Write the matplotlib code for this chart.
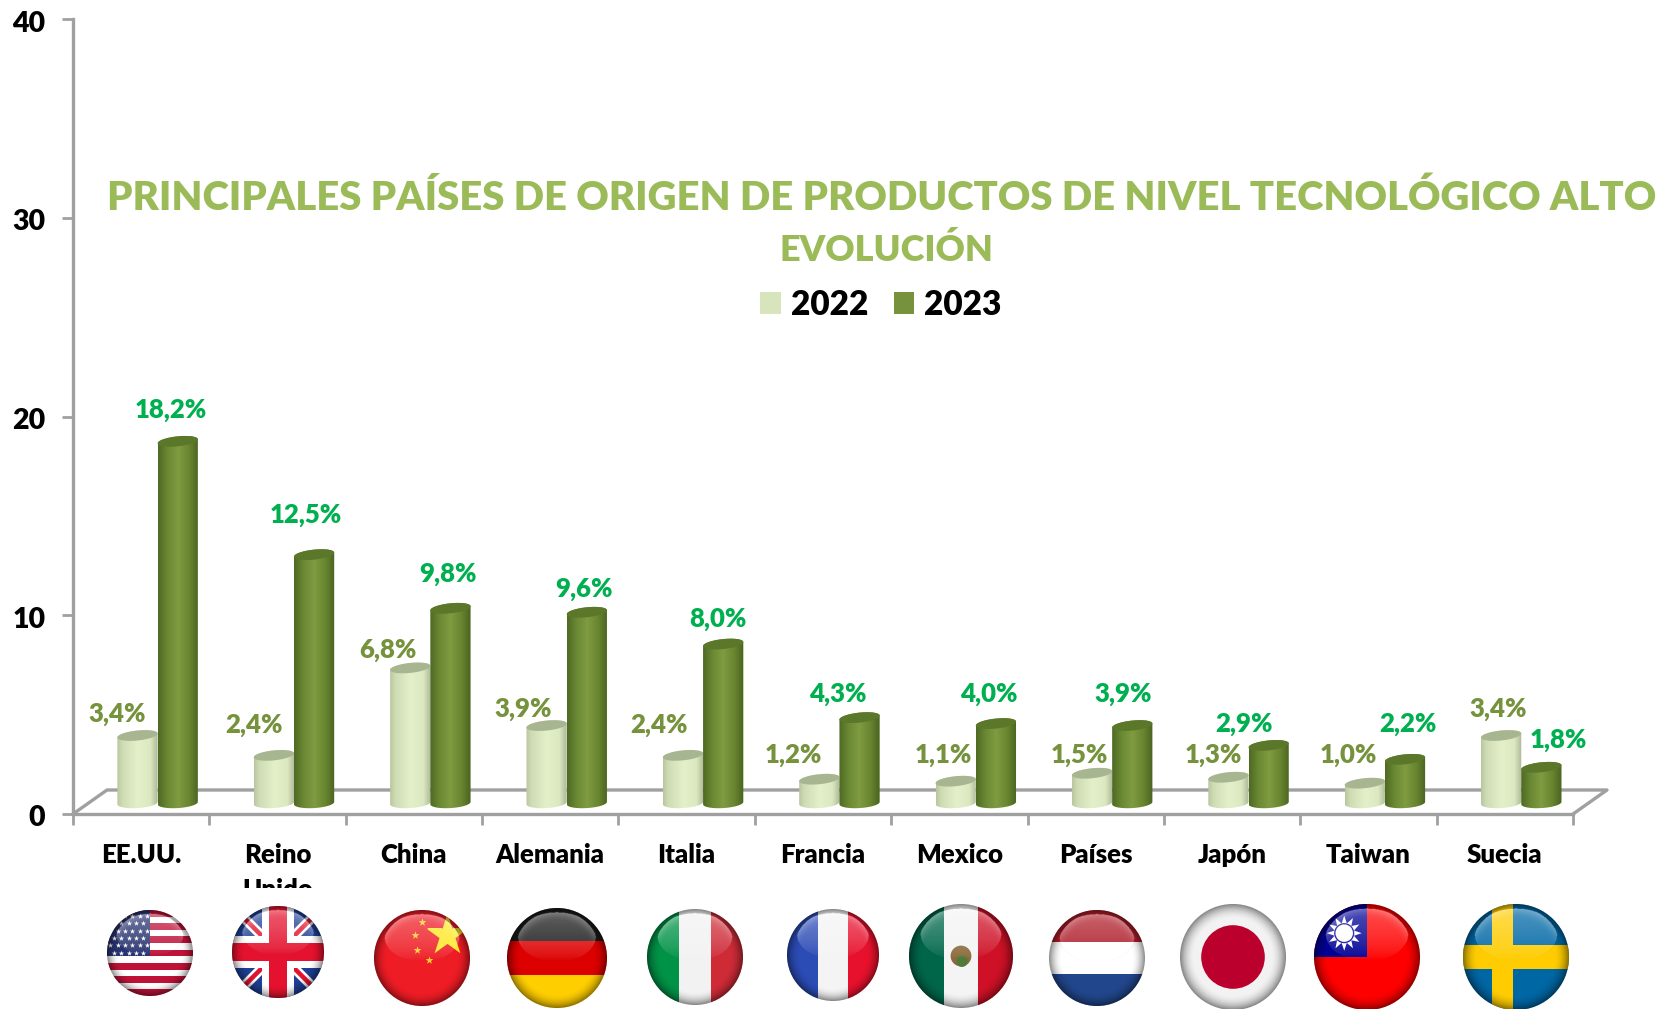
import numpy as np
import matplotlib
matplotlib.use("Agg")
import matplotlib.pyplot as plt
from matplotlib.colors import LinearSegmentedColormap
from matplotlib.patches import Circle, Patch, Polygon, Rectangle
from matplotlib.transforms import Affine2D, Bbox

categories = ["EE.UU.", "Reino\nUnido", "China", "Alemania", "Italia", "Francia",
              "Mexico", "Países", "Japón", "Taiwan", "Suecia"]
values_2022 = [3.4, 2.4, 6.8, 3.9, 2.4, 1.2, 1.1, 1.5, 1.3, 1.0, 3.4]
values_2023 = [18.2, 12.5, 9.8, 9.6, 8.0, 4.3, 4.0, 3.9, 2.9, 2.2, 1.8]
series_names = ["2022", "2023"]
y_ticks = [0, 10, 20, 30, 40]
title_lines = ["PRINCIPALES PAÍSES DE ORIGEN DE PRODUCTOS DE NIVEL TECNOLÓGICO ALTO", "EVOLUCIÓN"]

# label offsets from the top of each bar, in pixels
offset_2022 = [(-20, 21), (-20, 30.5), (-22, 18), (-23.5, 16.6), (-24, 30.5), (-26, 24.6),
               (-12.5, 26.6), (-13, 18.7), (-15, 22.6), (-16, 28.6), (-3, 26.5)]
offset_2023 = [(-7, 31), (-8.5, 39.7), (-2.7, 34), (-3.2, 23), (-5, 25), (-21.4, 23.4),
               (-7, 29.4), (-8.7, 31.4), (-25, 21.6), (3, 35.5), (17, 27.6)]

FONT = "Lato"
W, H = 1664, 1009
GREY = "#A0A0A0"
plt.rcParams["font.family"] = [FONT, "DejaVu Sans"]
plt.rcParams["font.weight"] = "heavy"

fig = plt.figure(figsize=(W / 100, H / 100), dpi=100, facecolor="white")
LEFT, RIGHT, TOP, BASE = 73, 1573, 19, 814
ax = fig.add_axes([LEFT / W, 1 - BASE / H, (RIGHT - LEFT) / W, (BASE - TOP) / H], zorder=2)
ax.patch.set_alpha(0)
ax.set_xlim(0, 11)
ax.set_ylim(0, 40)

for s in ("top", "right"):
    ax.spines[s].set_visible(False)
for s in ("left", "bottom"):
    ax.spines[s].set_color(GREY)
    ax.spines[s].set_linewidth(2.4)

ax.set_yticks(y_ticks)
ax.tick_params(axis="y", length=8, width=2, color=GREY, labelsize=20.5, pad=12)
for t in ax.get_yticklabels():
    t.set_transform(t.get_transform() + Affine2D().translate(0, -2))
ax.set_xticks(np.arange(12))
ax.set_xticklabels([])
ax.tick_params(axis="x", which="major", length=8, width=2, color=GREY)
ax.set_xticks(np.arange(11) + 0.5, minor=True)
ax.set_xticklabels(categories, minor=True)
ax.tick_params(axis="x", which="minor", length=0, labelsize=18.5, pad=21)
clip_labels = Bbox.from_extents(0, H - 888, W, H)
for t in ax.get_xticklabels(minor=True):
    t.set_clip_box(clip_labels)
    t.set_clip_on(True)
    t.set_linespacing(1.55)

# floor of the 3D plot
fx_d, fy_d = 34 / 136.36, 24 / 19.875
ax.plot([0, fx_d, 11 + fx_d, 11], [0, fy_d, fy_d, 0], color=GREY, lw=2.4, clip_on=False, zorder=1)

FLOOR = 0.55
WIDTH = 0.295
CENTRES = (0.473, 0.768)
PX_Y = 19.875
EDGE_B = 5 / PX_Y
TILT = 2 / PX_Y


def cylinder(rect, stops, top_colour):
    x0, w = rect.get_x(), rect.get_width()
    y0, h = rect.get_y(), rect.get_height()
    xc, a = x0 + w / 2, w / 2
    t = np.linspace(0, 2 * np.pi, 80)
    lower = np.linspace(np.pi, 2 * np.pi, 40)
    low = np.c_[xc + a * np.cos(lower), y0 + EDGE_B * np.sin(lower) + TILT * np.cos(lower) * 0.6]
    up = np.linspace(0, np.pi, 40)
    hi = np.c_[xc + a * np.cos(up), y0 + h + EDGE_B * np.sin(up) + TILT * np.cos(up)]
    outline = Polygon(np.r_[low, hi], closed=True, transform=ax.transData, fc="none", ec="none")
    cmap = LinearSegmentedColormap.from_list("c", stops)
    im = ax.imshow(np.linspace(0, 1, 64)[None, :], cmap=cmap, vmin=0, vmax=1, aspect="auto",
                   extent=(x0, x0 + w, y0 - EDGE_B * 1.5, y0 + h + EDGE_B * 1.5), zorder=3,
                   interpolation="bilinear")
    im.set_clip_path(outline)
    cap = np.c_[xc + a * np.cos(t), y0 + h + EDGE_B * np.sin(t) + TILT * np.cos(t)]
    ax.add_patch(Polygon(cap, closed=True, fc=top_colour, ec="none", zorder=3.1))


LIGHT = [(0, "#B9C69F"), (0.12, "#CFDBB3"), (0.5, "#E4F0C9"), (0.82, "#DCE8C0"), (1, "#AEB99A")]
DARK = [(0, "#4E6A23"), (0.22, "#6A8833"), (0.5, "#7F9C42"), (0.78, "#67842F"), (1, "#4A6420")]
OLIVE, BRIGHT = "#76923C", "#00B050"

bars_a = ax.bar(np.arange(11) + CENTRES[0], values_2022, WIDTH, bottom=FLOOR, color="none", zorder=2)
bars_b = ax.bar(np.arange(11) + CENTRES[1], values_2023, WIDTH, bottom=FLOOR, color="none", zorder=2)
for r in bars_a:
    cylinder(r, LIGHT, "#A7B691")
for r in bars_b:
    cylinder(r, DARK, "#5B772A")
ax.set_xlim(0, 11)
ax.set_ylim(0, 40)

for bars, vals, offs, col in ((bars_a, values_2022, offset_2022, OLIVE), (bars_b, values_2023, offset_2023, BRIGHT)):
    for r, v, o in zip(bars, vals, offs):
        ax.annotate(f"{v:.1f}%".replace(".", ","),
                    (r.get_x() + r.get_width() / 2, r.get_y() + r.get_height()),
                    xytext=o, textcoords="offset pixels", ha="center", va="center",
                    fontsize=18.5, color=col, zorder=5)

fig.text(882 / W, 1 - 198 / H, title_lines[0], ha="center", va="center", fontsize=28.85, color="#9BBB59")
fig.text(886 / W, 1 - 250 / H, title_lines[1], ha="center", va="center", fontsize=26, color="#9BBB59")

ax.legend(handles=[Patch(fc="#D8E4BC", label=series_names[0]), Patch(fc="#76923C", label=series_names[1])],
          loc="center", bbox_to_anchor=(881 / W, 1 - 305 / H), bbox_transform=fig.transFigure,
          ncol=2, frameon=False, fontsize=24, handlelength=0.62, handleheight=0.62,
          handletextpad=0.3, columnspacing=0.76, labelcolor="black")

# ---- flags, drawn in pixel space
fx = fig.add_axes([0, 0, 1, 1], zorder=1)
fx.set_xlim(0, W)
fx.set_ylim(H, 0)
fx.axis("off")

yy, xx = np.mgrid[-1:1:200j, -1:1:200j]
rr = np.hypot(xx, yy)
shade = np.zeros((200, 200, 4))
dark_a = np.clip((rr - 0.72) / 0.28, 0, 1) ** 2 * 0.45
gloss = np.clip(1 - np.hypot(xx / 0.78, (yy + 0.42) / 0.5), 0, 1)
gloss = (gloss > 0) * (0.30 * np.clip(-yy + 0.05, 0, 1) ** 0.6)
a = dark_a + gloss * (1 - dark_a)
shade[..., :3] = np.where((gloss > dark_a)[..., None], 1.0, 0.0)
shade[..., 3] = a
flat = shade.copy()
flat[..., :3] = 0
flat[..., 3] = dark_a


def flag(cx, cy, r, painter, shine=True):
    t = Affine2D().scale(r).translate(cx, cy) + fx.transData
    clip = Circle((0, 0), 1, transform=t, fc="none", ec="none")

    def add(patch, z=1):
        patch.set_transform(t)
        patch.set_clip_path(clip)
        patch.set_linewidth(0)
        patch.set_zorder(z)
        fx.add_patch(patch)

    def star(x, y, s, c):
        pts = fx.scatter([x], [y], marker="*", s=s, color=c, transform=t, zorder=2, linewidths=0)
        pts.set_clip_path(clip)

    painter(add, star)
    im = fx.imshow(shade if shine else flat, extent=(cx - r, cx + r, cy + r, cy - r), aspect="auto",
                   zorder=3, interpolation="bilinear")
    im.set_clip_path(Circle((cx, cy), r, transform=fx.transData))


def rect(x0, y0, x1, y1, c):
    return Rectangle((x0, y0), x1 - x0, y1 - y0, fc=c)


def bands(colours, vertical=False):
    def p(add, star):
        n = len(colours)
        for i, c in enumerate(colours):
            a0, a1 = -1 + 2 * i / n, -1 + 2 * (i + 1) / n
            add(rect(a0, -1, a1, 1, c) if vertical else rect(-1, a0, 1, a1, c))
    return p


def usa(add, star):
    for i in range(13):
        add(rect(-1, -1 + i * 2 / 13, 1, -1 + (i + 1) * 2 / 13, "#BF1238" if i % 2 == 0 else "#FFFFFF"))
    add(rect(-1, -1, 0, 0.08, "#27336F"), 1.5)
    for j, y in enumerate(np.arange(-0.86, 0.05, 0.17)):
        for x in np.arange(-0.92 + 0.08 * (j % 2), -0.02, 0.17):
            star(x, y, 16, "white")


def uk(add, star):
    add(rect(-1, -1, 1, 1, "#1F3F95"))
    for sx in (1, -1):
        add(Polygon([(-1 * sx, -0.85), (-0.85 * sx, -1), (1 * sx, 0.85), (0.85 * sx, 1)], fc="white"), 1.1)
        add(Polygon([(-1 * sx, -0.93), (-0.93 * sx, -1), (1 * sx, 0.93), (0.93 * sx, 1)], fc="#E4122E"), 1.2)
    add(rect(-0.34, -1, 0.34, 1, "white"), 1.3)
    add(rect(-1, -0.34, 1, 0.34, "white"), 1.3)
    add(rect(-0.2, -1, 0.2, 1, "#E4122E"), 1.4)
    add(rect(-1, -0.2, 1, 0.2, "#E4122E"), 1.4)


def china(add, star):
    add(rect(-1, -1, 1, 1, "#EE1C25"))
    star(0.52, -0.48, 1000, "#FFE926")
    for x, y in ((0.01, -0.74), (-0.15, -0.47), (-0.1, -0.17), (0.15, 0.04)):
        star(x, y, 35, "#FFD22E")


def mexico(add, star):
    bands(["#00664A", "#F4F4F4", "#CE1126"], True)(add, star)
    add(Circle((0, 0), 0.2, fc="#8A6A3A"), 2)
    add(Circle((0.02, 0.1), 0.11, fc="#4F7A3A"), 2.1)


def japan(add, star):
    add(rect(-1, -1, 1, 1, "#F2F2F2"))
    add(Circle((0, 0), 0.6, fc="#BC002D"), 2)


def taiwan(add, star):
    add(rect(-1, -1, 1, 1, "#FE0000"))
    add(rect(-1, -1, 0, 0, "#000095"), 1.5)
    ang = np.linspace(0, 2 * np.pi, 24, endpoint=False)
    rad = np.where(np.arange(24) % 2 == 0, 0.33, 0.19)
    add(Polygon(np.c_[-0.43 + rad * np.sin(ang), -0.45 + rad * np.cos(ang)], fc="white"), 1.6)
    add(Circle((-0.43, -0.45), 0.19, fc="#000095"), 1.7)
    add(Circle((-0.43, -0.45), 0.165, fc="white"), 1.8)


def sweden(add, star):
    add(rect(-1, -1, 1, 1, "#0067A5"))
    add(rect(-0.45, -1, -0.05, 1, "#FECC00"), 1.5)
    add(rect(-1, -0.22, 1, 0.22, "#FECC00"), 1.5)


flags = [
    (150, 953, 43, usa),
    (278, 952, 46, uk),
    (422, 958, 48, china),
    (557, 958, 50, bands(["#1A1A1A", "#DD0000", "#FFCE00"])),
    (695, 957, 48, bands(["#009246", "#F1F2F1", "#CE2B37"], True)),
    (833, 955, 46, bands(["#2B4BB5", "#F4F4F4", "#E8112D"], True)),
    (961, 956, 52, mexico),
    (1097, 958, 48, bands(["#AE1C28", "#FFFFFF", "#21468B"])),
    (1233, 957, 53, japan, False),
    (1367, 957, 53, taiwan),
    (1516, 957, 53, sweden),
]
for f in flags:
    flag(*f)
fx.set_xlim(0, W)
fx.set_ylim(H, 0)

fig.savefig("out.png", dpi=100, facecolor="white")
